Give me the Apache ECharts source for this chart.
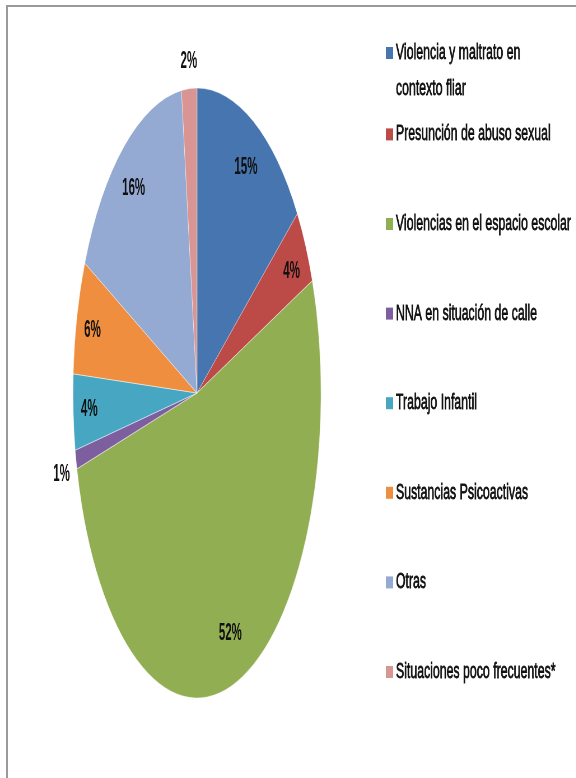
<!DOCTYPE html>
<html>
<head>
<meta charset="utf-8">
<script src="https://cdn.jsdelivr.net/npm/echarts@6/dist/echarts.min.js"></script>
<style>
html, body { margin: 0; padding: 0; background: #fff; overflow: hidden; }
#wrap { position: relative; width: 576px; height: 778px; overflow: hidden; background: #fff; }
#frame { position: absolute; left: 6px; top: 5px; width: 640px; height: 820px;
  border-left: 2px solid #9a9a9a; border-top: 2px solid #9a9a9a; box-sizing: border-box; }
#chart { position: absolute; left: 0; top: 0; width: 1029px; height: 778px;
  transform: scaleX(0.56); transform-origin: 0 0; }
</style>
</head>
<body>
<div id="wrap"><div id="frame"></div><div id="chart"></div></div>
<script>
// ---- data ----
const categories = [
  'Violencia y maltrato en contexto fliar',
  'Presunción de abuso sexual',
  'Violencias en el espacio escolar',
  'NNA en situación de calle',
  'Trabajo Infantil',
  'Sustancias Psicoactivas',
  'Otras',
  'Situaciones poco frecuentes*'
];
const values = [15, 4, 52, 1, 4, 6, 16, 2];
const colors = ['#4775B0', '#BC4A47', '#91AF52', '#7D5FA0', '#47A6C1', '#EE8E3E', '#94AAD3', '#D99593'];

// ---- layout (chart coordinates, page is squeezed horizontally by SX) ----
const SX = 0.56;
const CX = 197 / SX, CY = 393, RY = 305, RX = 124 / SX;

const total = values.reduce((a, b) => a + b, 0);
const cumBefore = values.map((v, i) => values.slice(0, i).reduce((a, b) => a + b, 0));

const chart = echarts.init(document.getElementById('chart'), null, { renderer: 'canvas' });

const series = categories.map((name, i) => ({
  type: 'custom',
  name: name,
  coordinateSystem: 'none',
  data: [values[i]],
  itemStyle: { color: colors[i] },
  renderItem: function (params, api) {
    const v = api.value(0);
    const idx = params.seriesIndex;
    const a0 = cumBefore[idx] / total * 2 * Math.PI;
    const a1 = (cumBefore[idx] + v) / total * 2 * Math.PI;
    const am = (a0 + a1) / 2;
    const s = Math.sin(am), c = Math.cos(am);
    const pct = v / total * 100;
    const outside = pct < 3;
    let lx, ly, align = 'center', va = 'middle';
    if (outside) {
      lx = 1.05 * RX * s; ly = -1.05 * RY * c;
      align = s < -0.3 ? 'right' : (s > 0.3 ? 'left' : 'center');
      va = c > 0.15 ? 'bottom' : (c < -0.15 ? 'top' : 'middle');
    } else {
      lx = 0.87 * RX * s; ly = -0.83 * RY * c;
    }
    return {
      type: 'group', x: CX, y: CY,
      children: [
        {
          type: 'sector', scaleX: RX / RY,
          shape: { cx: 0, cy: 0, r: RY, r0: 0, startAngle: a0 - Math.PI / 2, endAngle: a1 - Math.PI / 2, clockwise: true },
          style: { fill: api.visual('color'), stroke: 'rgba(255,255,255,0.55)', lineWidth: 1, strokeNoScale: true }
        },
        {
          type: 'text', x: lx, y: ly, scaleX: 0.86,
          style: { text: Math.round(pct) + '%', fill: '#111', font: 'bold 24px "Liberation Sans"', align: align, verticalAlign: va }
        }
      ]
    };
  }
}));

const legendText = { fontSize: 22, fontFamily: 'Liberation Sans', color: '#111', textBorderColor: '#111', textBorderWidth: 0.8 };

chart.setOption({
  animation: false,
  legend: [
    {
      data: [categories[0]], orient: 'vertical', left: 689, top: -1, padding: 0,
      itemWidth: 13, itemHeight: 12, icon: 'rect',
      formatter: n => ' \n' + n.replace(' en ', ' en\n'),
      textStyle: Object.assign({}, legendText, { lineHeight: 36 })
    },
    {
      data: categories.slice(1), orient: 'vertical', left: 689, top: 123, padding: 0, itemGap: 66.8,
      itemWidth: 13, itemHeight: 12, icon: 'rect',
      textStyle: Object.assign({}, legendText, { lineHeight: 22 })
    }
  ],
  series: series
});
</script>
</body>
</html>
